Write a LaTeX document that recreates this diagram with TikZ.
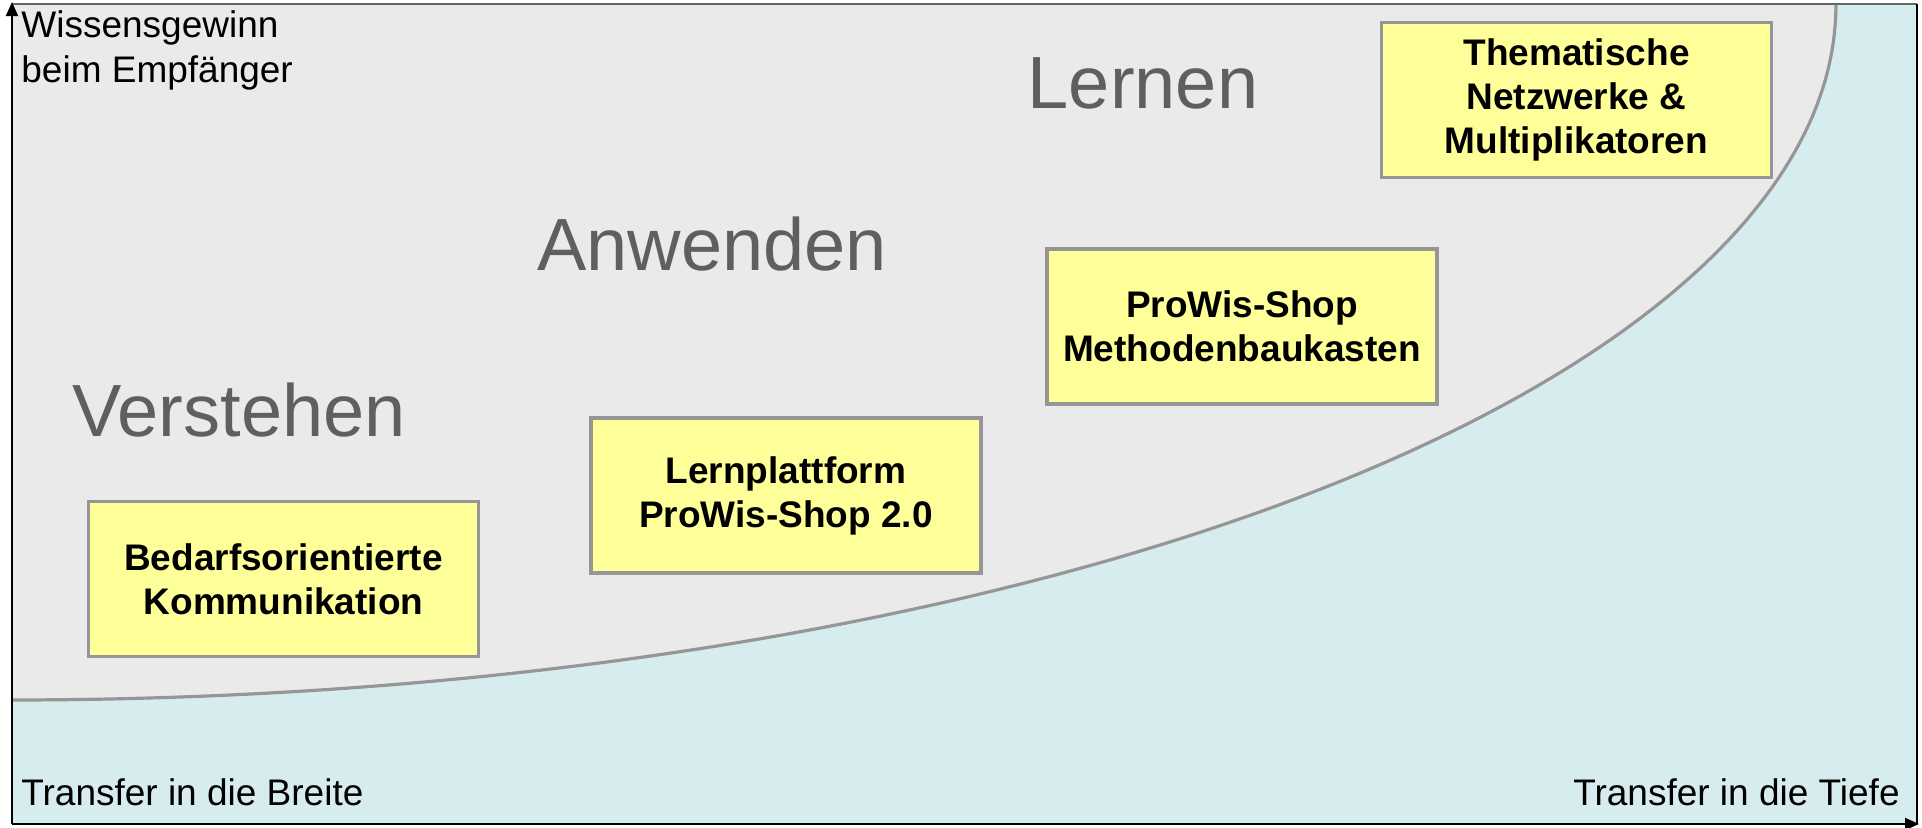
\documentclass[tikz,border=0pt]{standalone}
\usepackage{fontspec}
\setmainfont{Liberation Sans}
\usetikzlibrary{arrows.meta}
\definecolor{greybg}{HTML}{EAEAEA}
\definecolor{bluebg}{HTML}{D7ECEF}
\definecolor{boxfill}{HTML}{FFFF99}
\definecolor{boxline}{HTML}{969696}
\definecolor{biglab}{HTML}{5F5F5F}
\begin{document}
\begin{tikzpicture}[x=0.5pt,y=-0.5pt,
  infobox/.style={draw=boxline, line width=1.75pt, fill=boxfill, minimum width=195pt, minimum height=77.5pt, align=center, inner sep=0pt, font=\fontsize{18.5}{22}\selectfont\bfseries},
  phase/.style={text=biglab, font=\fontsize{37}{44}\selectfont, inner sep=0pt, anchor=base},
  axislabel/.style={font=\fontsize{18.5}{22}\selectfont, inner sep=0pt},
  axis/.style={line width=1pt, -{Triangle[length=7pt,width=6pt]}},
  curveline/.style={draw=boxline, line width=1.6pt}
]
\useasboundingbox (0,0) rectangle (1922,827);
% background regions
\fill[bluebg] (12,4) rectangle (1917,824);
\fill[greybg] (12,5) -- plot[domain=0:90,samples=120] ({12+1824*sin(\x)},{5+695*cos(\x)}) -- cycle;
\draw[curveline] plot[domain=0:90,samples=120] ({12+1824*sin(\x)},{5+695*cos(\x)});
% frame
\draw[black!60, line width=0.6pt] (12,4) -- (1917,4);
\draw[black, line width=0.8pt] (1917,4) -- (1917,824);
% axes
\coordinate (O) at (12,824);
\coordinate (Ytop) at (12,2);
\coordinate (Xend) at (1919,824);
\draw[axis] (O) -- (Ytop);
\draw[axis] (O) -- (Xend);
% axis labels
\node[axislabel, anchor=base west] (yl1) at (21,37) {Wissensgewinn};
\node[axislabel, anchor=base west] (yl2) at (21,82) {beim Empfänger};
\node[axislabel, anchor=base west] (xl1) at (21,805) {Transfer in die Breite};
\node[axislabel, anchor=base east] (xl2) at (1900,805) {Transfer in die Tiefe};
% phases
\node[phase] (verstehen) at (239,436) {Verstehen};
\node[phase] (anwenden) at (712,270) {Anwenden};
\node[phase] (lernen) at (1143,108) {Lernen};
% boxes
\node[infobox] (b1) at (283.5,579) {Bedarfsorientierte\\Kommunikation};
\node[infobox] (b2) at (786,495.5) {Lernplattform\\ProWis-Shop 2.0};
\node[infobox] (b3) at (1242,326.5) {ProWis-Shop\\Methodenbaukasten};
\node[infobox] (b4) at (1576.5,100) {Thematische\\Netzwerke \&\\Multiplikatoren};
\end{tikzpicture}
\end{document}
